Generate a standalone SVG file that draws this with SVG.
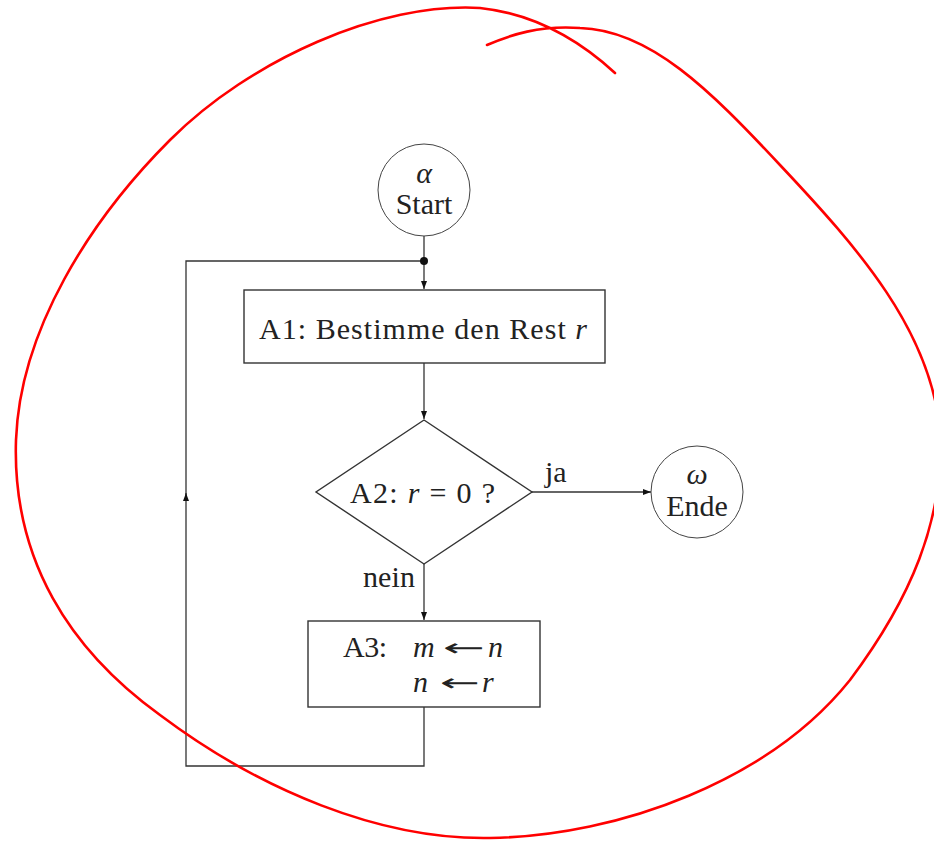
<svg xmlns="http://www.w3.org/2000/svg" width="934" height="846" viewBox="0 0 934 846">
<style>
.ln{fill:none;stroke:#333;stroke-width:1.3}
.sh{fill:#fff;stroke:#333;stroke-width:1.4}
.cir{fill:#fff;stroke:#444;stroke-width:1}
.t{font-family:"Liberation Serif","Times New Roman",serif;fill:#222;font-size:30px}
.tc{font-family:"Liberation Serif","Times New Roman",serif;fill:#222;font-size:30px;text-anchor:middle}
.m{font-style:italic}
.ar{font-family:"DejaVu Sans",sans-serif;font-size:24px;fill:#222}
.red{fill:none;stroke:#ff0000;stroke-width:2.6;stroke-linecap:round}
</style>
<defs>
<marker id="ah" viewBox="0 0 8 6" refX="8" refY="3" markerWidth="8" markerHeight="6" markerUnits="userSpaceOnUse" orient="auto">
<path d="M0,0 L8,3 L0,6 Z" fill="#111"/>
</marker>
</defs>
<rect width="934" height="846" fill="#fff"/>
<g id="connectors">
<path class="ln" d="M424,236 V261"/>
<path class="ln" d="M424,261 V289" marker-end="url(#ah)"/>
<path class="ln" d="M424,363 V419" marker-end="url(#ah)"/>
<path class="ln" d="M532,492 H651" marker-end="url(#ah)"/>
<path class="ln" d="M424,564 V620" marker-end="url(#ah)"/>
<path class="ln" d="M424,707 V766 H186 V493"/>
<path class="ln" d="M186,500 V493" marker-end="url(#ah)"/>
<path class="ln" d="M186,493 V261 H424"/>
<circle cx="424" cy="261" r="4" fill="#111"/>
<text class="t" x="545" y="482" font-size="28">ja</text>
<text class="t" x="363" y="587" font-size="27" textLength="52">nein</text>
</g>
<g id="start">
<circle class="cir" cx="424" cy="190" r="46"/>
<text class="tc m" x="424" y="183" font-size="28">α</text>
<text class="tc" x="424" y="214">Start</text>
</g>
<g id="a1">
<rect class="sh" x="244" y="290" width="361" height="73"/>
<text class="t" x="259" y="339" textLength="328">A1: Bestimme den Rest <tspan class="m">r</tspan></text>
</g>
<g id="a2">
<polygon class="sh" points="424,420 532,492 424,564 316,492"/>
<text class="t" x="350" y="503" textLength="145">A2: <tspan class="m">r</tspan> = 0 ?</text>
</g>
<g id="ende">
<circle class="cir" cx="697" cy="492" r="46"/>
<text class="tc m" x="697" y="484" font-size="28">ω</text>
<text class="tc" x="697" y="516">Ende</text>
</g>
<g id="a3">
<rect class="sh" x="308" y="621" width="232" height="86"/>
<text class="t" x="343" y="657" textLength="44">A3:</text>
<text class="t m" x="413" y="657" textLength="25">m</text>
<text class="ar" x="443" y="656" textLength="42" lengthAdjust="spacingAndGlyphs">←</text>
<text class="t m" x="488" y="657">n</text>
<text class="t m" x="413" y="692">n</text>
<text class="ar" x="440" y="691" textLength="40" lengthAdjust="spacingAndGlyphs">←</text>
<text class="t m" x="482" y="692">r</text>
</g>
<path class="red" d="M615,73 C590,50 545,15 480,8 C380,2 250,60 170,140 C90,220 20,330 16,440 C12,560 70,650 160,715 C260,790 380,840 490,838 C620,836 770,780 850,680 C910,600 945,520 940,430 C930,330 860,250 780,165 C710,90 650,30 580,28 C540,25 510,35 487,45"/>
</svg>
